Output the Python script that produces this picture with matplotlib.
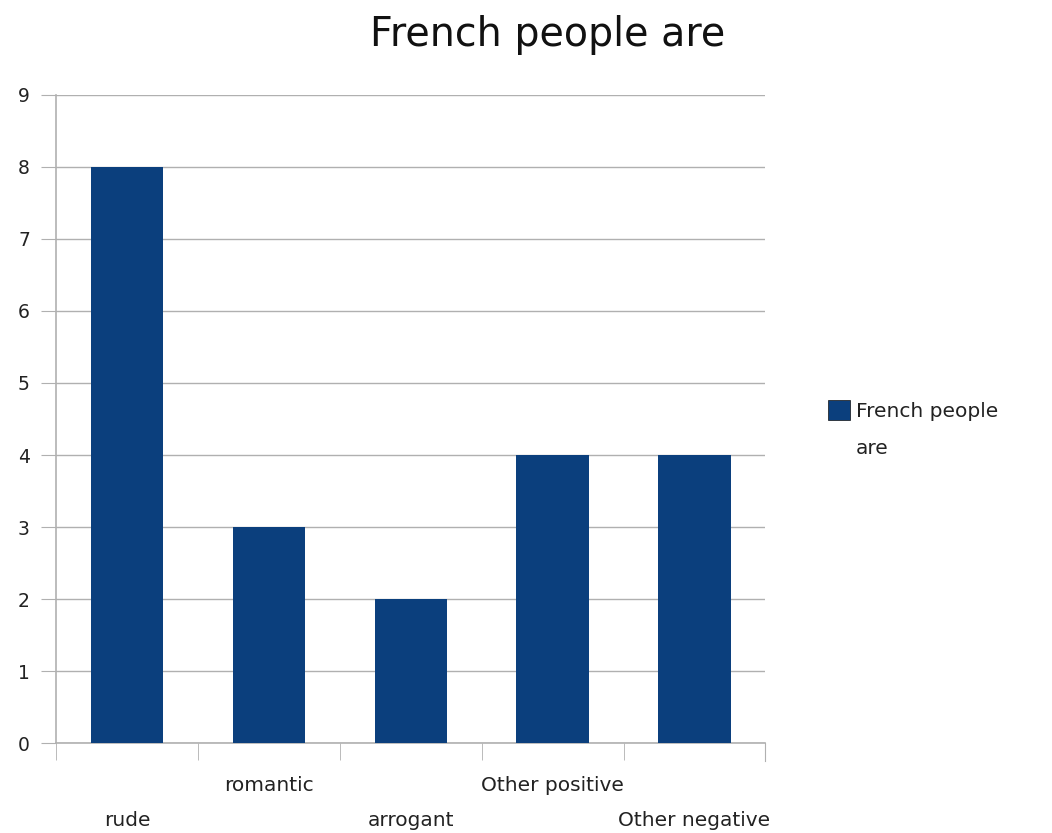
import numpy as np
import matplotlib.pyplot as plt
from matplotlib.patches import Patch

plt.rcParams['font.family'] = ['DejaVu Sans']

# Data
categories = ['rude', 'romantic', 'arrogant', 'Other positive', 'Other negative']
values = [8, 3, 2, 4, 4]
series_name = 'French people are'

bar_color = '#0b3f7d'
axis_color = '#b0b0b0'

fig = plt.figure(figsize=(10.52, 8.33), dpi=100)
ax = fig.add_axes([0.0535, 0.108, 0.674, 0.778])

x = np.arange(len(categories))
ax.bar(x, values, width=0.51, color=bar_color, zorder=3)

ax.set_xlim(-0.5, len(categories) - 0.5)
ax.set_ylim(0, 9)
ax.set_yticks(range(0, 10))
ax.grid(axis='y', color=axis_color, linewidth=1, zorder=0)

for side in ['top', 'right']:
    ax.spines[side].set_visible(False)
for side in ['left', 'bottom']:
    ax.spines[side].set_color(axis_color)
    ax.spines[side].set_linewidth(1.2)
ax.spines['right'].set_visible(True)
ax.spines['right'].set_color(axis_color)
ax.spines['right'].set_bounds(-0.25, 0)

ax.tick_params(axis='y', length=11, color=axis_color, labelsize=13.5, pad=8,
               labelcolor='#222222')

# boundary ticks on x axis, labels staggered in two rows
ax.set_xticks(np.arange(-0.5, len(categories)), minor=True)
ax.tick_params(axis='x', which='minor', length=12, color=axis_color,
               direction='out')
ax.set_xticks(x)
ax.set_xticklabels([])
ax.tick_params(axis='x', which='major', length=0)
for i, name in enumerate(categories):
    yoff = -0.066 if i % 2 == 1 else -0.12
    ax.text(i, yoff, name, transform=ax.get_xaxis_transform(), ha='center',
            va='center', fontsize=14.5, color='#222222')

fig.text(0.521, 0.958, series_name, ha='center', va='center', fontsize=28.5,
         color='#111111')

# legend: the name wraps onto a second line under the first
name_words = series_name.rsplit(' ', 1)
handle = Patch(facecolor=bar_color, edgecolor='#111111', linewidth=0.5)
leg = fig.legend([handle], [name_words[0]], loc='center left',
                 bbox_to_anchor=(0.787, 0.507), frameon=False, fontsize=14.5,
                 handlelength=1.1, handleheight=1.1, handletextpad=0.3,
                 labelcolor='#222222', borderpad=0, borderaxespad=0)
fig.canvas.draw()
bb = leg.get_texts()[0].get_window_extent().transformed(fig.transFigure.inverted())
fig.text(bb.x0, bb.y0 - 0.022, name_words[1], ha='left', va='top',
         fontsize=14.5, color='#222222')

fig.savefig('out.png', dpi=100)
